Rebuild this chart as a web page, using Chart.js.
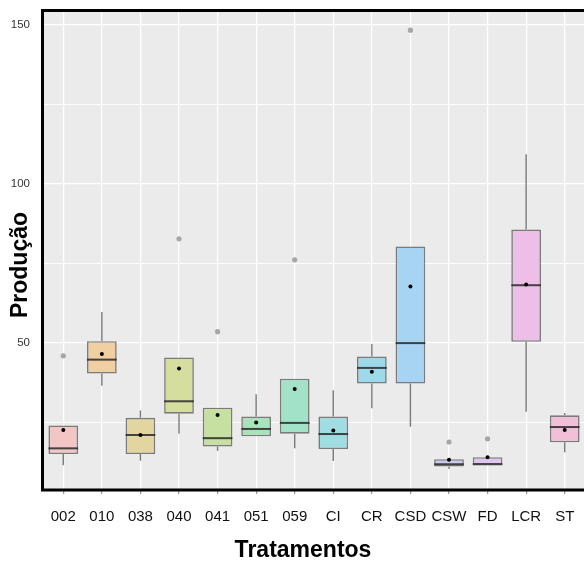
<!DOCTYPE html>
<html>
<head>
<meta charset="utf-8">
<script src="https://cdn.jsdelivr.net/npm/chart.js@4/dist/chart.umd.min.js"></script>
<style>
  html, body { margin: 0; padding: 0; background: #ffffff; }
  #wrap { width: 584px; height: 565px; position: relative; }
</style>
</head>
<body>
<div id="wrap"><canvas id="c" width="584" height="565"></canvas></div>
<script>
// ---- data ----
const categories  = ['002','010','038','040','041','051','059','CI','CR','CSD','CSW','FD','LCR','ST'];
const whiskerLow  = [11.6, 36.6, 13.0, 21.5, 16.1, 20.7, 16.9, 12.9, 29.5, 23.7, 10.4, 11.8, 28.4, 15.7];
const q1Values    = [15.1, 40.4, 15.1, 27.8, 17.5, 20.7, 21.5, 16.7, 37.3, 37.3, 11.2, 11.8, 50.4, 18.8];
const medians     = [16.9, 44.8, 21.1, 31.7, 20.1, 23.0, 24.9, 21.4, 42.2, 50.0, 11.9, 11.9, 68.2, 23.6];
const q3Values    = [24.1, 50.6, 26.5, 45.5, 29.7, 26.9, 38.8, 26.9, 45.8, 80.4, 13.5, 14.1, 85.7, 27.3];
const whiskerHigh = [24.1, 59.8, 28.8, 45.5, 29.7, 33.9, 38.8, 35.2, 49.7, 80.4, 13.5, 14.1, 109.4, 28.0];
const means       = [22.7, 46.6, 21.1, 42.0, 27.4, 25.0, 35.6, 22.5, 41.0, 67.8, 13.3, 14.1, 68.4, 22.7];
const outlierCats = ['002','040','041','059','CSD','CSW','FD'];
const outlierVals = [46.0, 82.8, 53.6, 76.2, 148.4, 18.9, 19.9];
const yTickValues = [25, 50, 75, 100, 125, 150];
const yTickLabels = [50, 100, 150];
const boxColors   = ['#F1C6C5','#F0D0A2','#E3D59F','#D6DE9F','#C6E0A1','#A9E3B9','#A1E2C9',
                     '#9FDDE2','#9ED9EA','#A7D4F2','#CACAF0','#DFC5F0','#EEBFE6','#F1C0D8'];

const boxData = categories.map((c, i) => [q1Values[i], q3Values[i]]);
const outlierData = outlierCats.map((c, i) => ({ x: c, y: outlierVals[i] }));

const boxPlugin = {
  id: 'boxExtras',
  beforeDraw(chart) {
    const { ctx, chartArea: a } = chart;
    ctx.save();
    ctx.fillStyle = '#EBEBEB';
    ctx.fillRect(a.left - 2, a.top, a.right - a.left + 2, a.bottom - a.top);
    ctx.restore();
  },
  beforeDatasetsDraw(chart) {
    const { ctx } = chart;
    const xs = chart.scales.x, ys = chart.scales.y;
    ctx.save();
    ctx.strokeStyle = '#7a7a7a';
    ctx.lineWidth = 1.4;
    categories.forEach((c, i) => {
      const x = xs.getPixelForValue(i);
      ctx.beginPath();
      ctx.moveTo(x, ys.getPixelForValue(whiskerLow[i]));
      ctx.lineTo(x, ys.getPixelForValue(q1Values[i]));
      ctx.moveTo(x, ys.getPixelForValue(q3Values[i]));
      ctx.lineTo(x, ys.getPixelForValue(whiskerHigh[i]));
      ctx.stroke();
    });
    ctx.restore();
  },
  afterDatasetDraw(chart, args) {
    if (args.index !== 0) return;
    const { ctx } = chart;
    const ys = chart.scales.y;
    const meta = chart.getDatasetMeta(0);
    ctx.save();
    ctx.strokeStyle = 'rgba(40,40,40,0.85)';
    ctx.lineWidth = 2;
    meta.data.forEach((bar, i) => {
      const w = bar.width;
      const y = ys.getPixelForValue(medians[i]);
      ctx.beginPath();
      ctx.moveTo(bar.x - w / 2, y);
      ctx.lineTo(bar.x + w / 2, y);
      ctx.stroke();
    });
    ctx.restore();
  },
  afterDraw(chart) {
    const { ctx, chartArea: a } = chart;
    ctx.save();
    ctx.strokeStyle = '#000';
    ctx.lineWidth = 3;
    ctx.beginPath();
    ctx.moveTo(a.right + 2, a.top);
    ctx.lineTo(a.left - 1.5, a.top);
    ctx.lineTo(a.left - 1.5, a.bottom);
    ctx.lineTo(a.right + 2, a.bottom);
    ctx.stroke();
    // axis titles
    ctx.fillStyle = '#000';
    ctx.font = 'bold 23px "Liberation Sans", Arial, sans-serif';
    ctx.textAlign = 'center';
    ctx.textBaseline = 'middle';
    ctx.fillText('Tratamentos', 303, 551);
    ctx.translate(21, 265);
    ctx.rotate(-Math.PI / 2);
    ctx.fillText('Produção', 0, 0);
    ctx.restore();
  }
};

new Chart(document.getElementById('c'), {
  data: {
    labels: categories,
    datasets: [
      {
        type: 'bar',
        data: boxData,
        backgroundColor: boxColors,
        borderColor: 'rgba(75,75,75,0.7)',
        borderWidth: 1.6,
        borderSkipped: false,
        barPercentage: 0.77,
        categoryPercentage: 1.0,
        order: 2
      },
      {
        type: 'line',
        data: means,
        showLine: false,
        pointRadius: 2,
        pointBackgroundColor: '#000',
        pointBorderWidth: 0,
        order: 1
      },
      {
        type: 'line',
        data: outlierData,
        showLine: false,
        pointRadius: 2.6,
        pointBackgroundColor: '#A6A6A6',
        pointBorderWidth: 0,
        order: 1
      }
    ]
  },
  options: {
    responsive: false,
    animation: false,
    devicePixelRatio: 1,
    layout: { autoPadding: false, padding: { top: 10.5, right: 0, left: 0, bottom: 0 } },
    plugins: { legend: { display: false }, tooltip: { enabled: false } },
    scales: {
      x: {
        type: 'category',
        offset: true,
        grid: {
          color: '#FFFFFF',
          lineWidth: 1.2,
          offset: false,
          drawTicks: true,
          tickLength: 4,
          tickColor: '#9a9a9a'
        },
        border: { display: false },
        ticks: {
          color: '#111111',
          padding: 14,
          maxRotation: 0,
          autoSkip: false,
          font: { family: '"Liberation Sans", Arial, sans-serif', size: 15 }
        },
        afterFit(scale) {
          scale.height = 75;
          scale.paddingTop = 0; scale.paddingBottom = 0;
          scale.paddingLeft = 0; scale.paddingRight = 0;
        }
      },
      y: {
        min: 3.8,
        max: 154.6,
        afterBuildTicks(scale) { scale.ticks = yTickValues.map(v => ({ value: v })); },
        grid: {
          color: '#FFFFFF',
          lineWidth: ctx => (ctx.tick && yTickLabels.includes(ctx.tick.value)) ? 1.3 : 0.9,
          drawTicks: false
        },
        border: { display: false },
        ticks: {
          color: '#333333',
          padding: 14,
          font: { family: '"Liberation Sans", Arial, sans-serif', size: 11.5 },
          callback: v => yTickLabels.includes(v) ? String(v) : ''
        },
        afterFit(scale) {
          scale.width = 44;
          scale.paddingTop = 0; scale.paddingBottom = 0;
          scale.paddingLeft = 0; scale.paddingRight = 0;
        }
      }
    }
  },
  plugins: [boxPlugin]
});
</script>
</body>
</html>
